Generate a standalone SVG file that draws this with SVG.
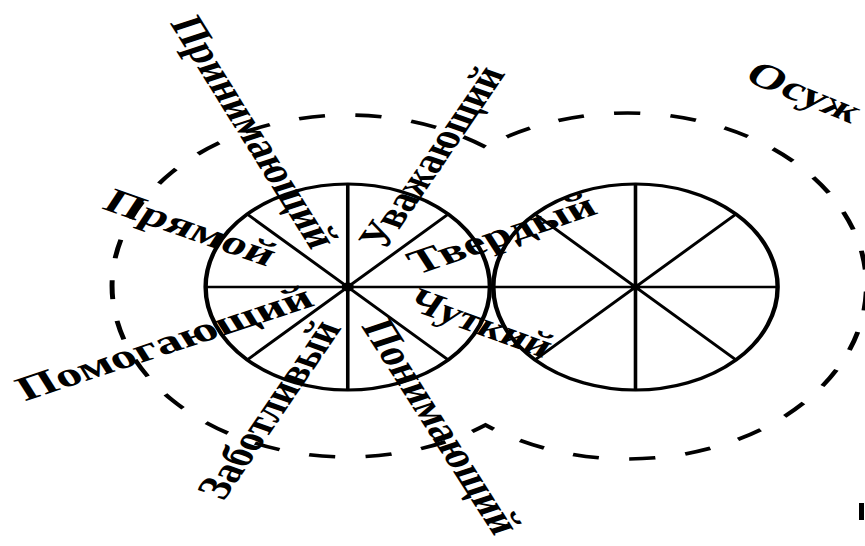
<svg xmlns="http://www.w3.org/2000/svg" width="865" height="546" viewBox="0 0 865 546">
<style>
.ring{fill:none;stroke:#000;stroke-width:3.2}
.spoke{fill:none;stroke:#000;stroke-width:2.6}
.dash{fill:none;stroke:#000;stroke-width:3.6;stroke-dasharray:19 22}
.hub{fill:#000}
.lbl{font-family:"Liberation Serif","Times New Roman",serif;font-size:34px;font-weight:bold;fill:#000}
</style>
<rect width="865" height="546" fill="#fff"/>
<g transform="scale(1.38 1)">
  <g id="connectors">
    <path class="dash" d="M351.8,147 A171,171 0 1 0 351.8,425 A173,173 0 1 0 351.8,147"/>
  </g>
  <g id="left-wheel">
    <circle class="ring" cx="252" cy="287" r="103"/>
    <path class="spoke" d="M149,287H355M252,184V390M179.2,214.2L324.8,359.8M179.2,359.8L324.8,214.2"/>
    <circle class="hub" cx="252" cy="287" r="4.5"/>
  </g>
  <g id="right-wheel">
    <circle class="ring" cx="460.5" cy="287" r="103"/>
    <path class="spoke" d="M357.5,287H563.5M460.5,184V390M387.7,214.2L533.3,359.8M387.7,359.8L533.3,214.2"/>
    <circle class="hub" cx="460.5" cy="287" r="3.5"/>
  </g>
  <g id="n-prinimayushchiy"><text class="lbl" transform="translate(183.3,132.5) rotate(65.7)" y="10" text-anchor="middle" textLength="250" lengthAdjust="spacingAndGlyphs">Принимающий</text></g>
  <g id="n-pryamoy"><text class="lbl" transform="translate(137.7,228.5) rotate(25.8)" y="10" text-anchor="middle" textLength="134" lengthAdjust="spacingAndGlyphs">Прямой</text></g>
  <g id="n-pomogayushchiy"><text class="lbl" transform="translate(119.6,344) rotate(-24.5)" y="10" text-anchor="middle" textLength="232" lengthAdjust="spacingAndGlyphs">Помогающий</text></g>
  <g id="n-zabotlivyy"><text class="lbl" transform="translate(196,410) rotate(-63.7)" y="10" text-anchor="middle" textLength="194" lengthAdjust="spacingAndGlyphs">Заботливый</text></g>
  <g id="n-ponimayushchiy"><text class="lbl" transform="translate(319,427) rotate(65.3)" y="10" text-anchor="middle" textLength="232" lengthAdjust="spacingAndGlyphs">Понимающий</text></g>
  <g id="n-uvazhayushchiy"><text class="lbl" transform="translate(313.8,157.5) rotate(-63.7)" y="10" text-anchor="middle" textLength="198" lengthAdjust="spacingAndGlyphs">Уважающий</text></g>
  <g id="n-tverdyy"><text class="lbl" transform="translate(364.1,235) rotate(-25.1)" y="10" text-anchor="middle" textLength="146" lengthAdjust="spacingAndGlyphs">Твердый</text></g>
  <g id="n-chutkiy"><text class="lbl" transform="translate(348.2,324) rotate(26.7)" y="10" text-anchor="middle" textLength="112" lengthAdjust="spacingAndGlyphs">Чуткий</text></g>
  <g id="n-osuzh"><text class="lbl" transform="translate(543,71) rotate(29.3)" y="10" textLength="90" lengthAdjust="spacingAndGlyphs">Осуж</text></g>
</g>
<rect x="859" y="503" width="5" height="17" fill="#000"/>
</svg>
